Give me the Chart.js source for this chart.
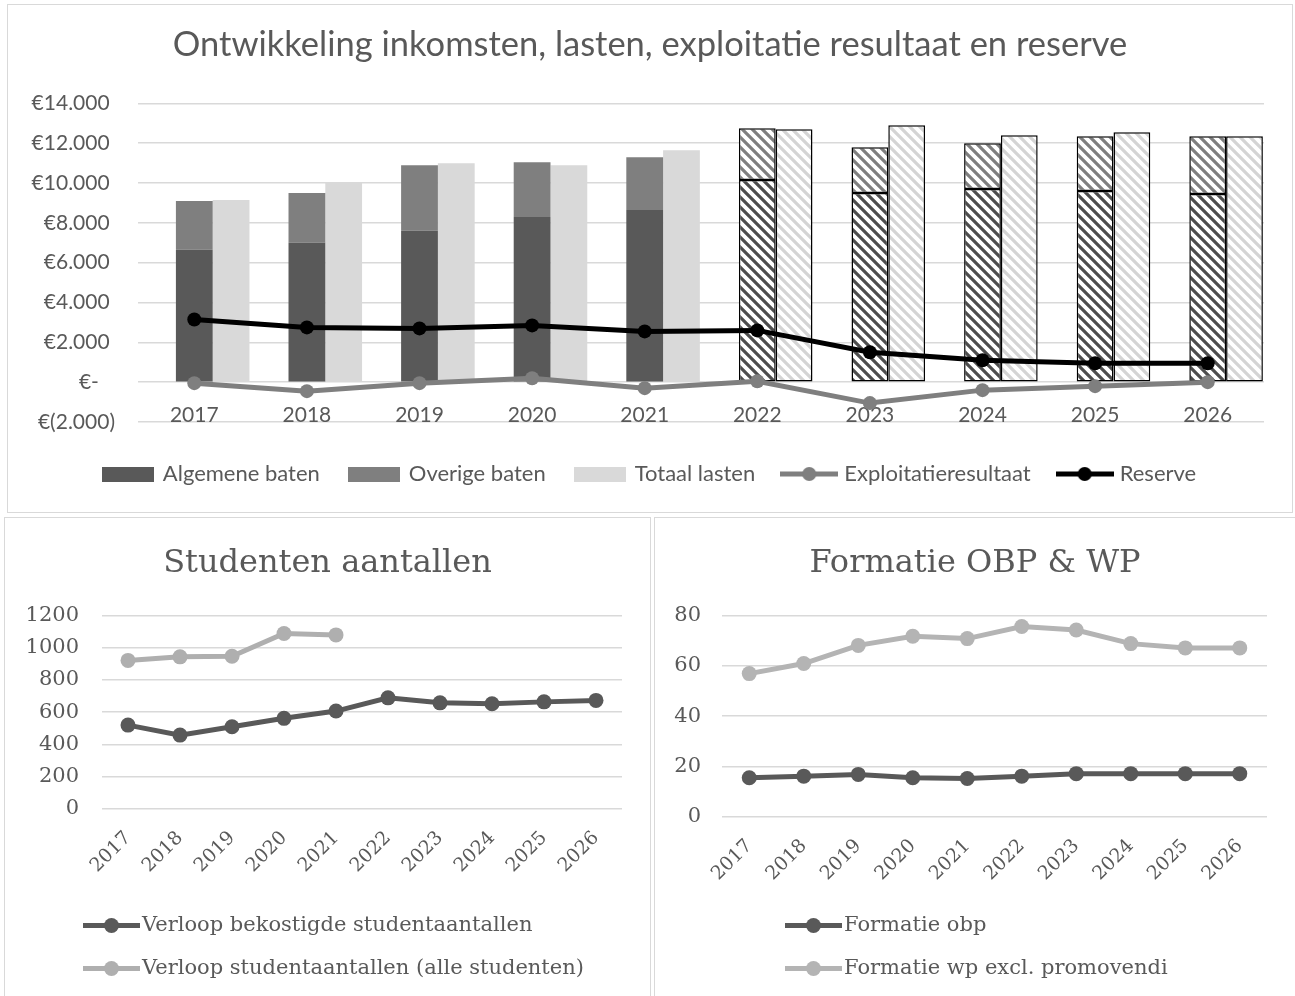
<!DOCTYPE html>
<html>
<head>
<meta charset="utf-8">
<script src="https://cdn.jsdelivr.net/npm/chart.js@4.4.1/dist/chart.umd.min.js"></script>
<style>
  body { margin: 0; background: #fff; width: 1295px; height: 996px; overflow: hidden; position: relative; }
  .box { position: absolute; border: 1px solid #d9d9d9; background: #fff; }
  #topBox { left: 7px; top: 4px; width: 1284px; height: 507px; }
  #leftBox { left: 4px; top: 517px; width: 645px; height: 490px; }
  #rightBox { left: 654px; top: 517px; width: 640px; height: 490px; }
  canvas { position: absolute; left: 0; top: 0; }
</style>
</head>
<body>
<div class="box" id="topBox"><canvas id="financeChart" width="1284" height="507"></canvas></div>
<div class="box" id="leftBox"><canvas id="studentChart" width="645" height="478"></canvas></div>
<div class="box" id="rightBox"><canvas id="formatieChart" width="640" height="478"></canvas></div>
<script>
// categories
const years = ['2017', '2018', '2019', '2020', '2021', '2022', '2023', '2024', '2025', '2026'];
const firstForecastYear = '2022';

// financial series (x €1.000)
const algemeneBaten = [6650, 7000, 7600, 8300, 8650, 10150, 9500, 9700, 9600, 9450];
const overigeBaten = [2450, 2500, 3300, 2750, 2650, 2600, 2300, 2300, 2750, 2900];
const totaalLasten = [9150, 10000, 11000, 10900, 11650, 12700, 12900, 12400, 12550, 12350];
const exploitatieresultaat = [-50, -450, -50, 200, -300, 50, -1050, -400, -200, 0];
const reserve = [3150, 2750, 2700, 2850, 2550, 2600, 1500, 1100, 950, 950];

// student numbers
const bekostigdeStudenten = [520, 458, 510, 562, 607, 689, 658, 652, 664, 673];
const alleStudenten = [921, 943, 947, 1088, 1079, null, null, null, null, null];

// formatie
const formatieObp = [15.6, 16.2, 16.9, 15.6, 15.3, 16.2, 17.2, 17.2, 17.2, 17.2];
const formatieWp = [56.9, 60.9, 68.1, 71.7, 70.8, 75.6, 74.2, 68.8, 67.1, 67.1];

const textGrey = '#595959';
const gridGrey = '#d9d9d9';
const sans = 'Lato';
const serif = '"DejaVu Serif"';

const isForecast = years.map(y => y >= firstForecastYear);

function hatch(color) {
    const c = document.createElement('canvas');
    c.width = c.height = 10;
    const g = c.getContext('2d');
    g.fillStyle = '#fff';
    g.fillRect(0, 0, 10, 10);
    g.strokeStyle = color;
    g.lineWidth = 3.2;
    g.beginPath();
    [-10, 0, 10].forEach(b => {
        g.moveTo(-10, -10 + b);
        g.lineTo(20, 20 + b);
    });
    g.stroke();
    return g.createPattern(c, 'repeat');
}

function boxIcon(color) {
    const c = document.createElement('canvas');
    c.width = 52; c.height = 15;
    const g = c.getContext('2d');
    g.fillStyle = color;
    g.fillRect(0, 0, 52, 15);
    return c;
}

function lineIcon(color, w, r) {
    const c = document.createElement('canvas');
    c.width = w; c.height = Math.ceil(r * 2 + 2);
    const g = c.getContext('2d');
    const mid = c.height / 2;
    g.strokeStyle = color;
    g.lineWidth = 5;
    g.beginPath();
    g.moveTo(0, mid);
    g.lineTo(w, mid);
    g.stroke();
    g.fillStyle = color;
    g.beginPath();
    g.arc(w / 2, mid, r, 0, Math.PI * 2);
    g.fill();
    return c;
}

// legend items drawn with our own icons, empty labels are left out
function iconLabels(icons) {
    return chart => chart.data.datasets
        .map((ds, i) => ({ ds, i }))
        .filter(o => o.ds.label)
        .map(o => ({
            text: o.ds.label,
            pointStyle: icons[o.ds.label],
            fillStyle: '#000',
            strokeStyle: '#000',
            lineWidth: 0,
            hidden: false,
            datasetIndex: o.i,
            fontColor: textGrey
        }));
}

// title and legend span the whole canvas, legend can be moved to a fixed spot
const boxPlace = {
    id: 'boxPlace',
    afterLayout(chart, args, opts) {
        const tb = chart.titleBlock;
        if (tb) { tb.left = 0; tb.right = chart.width; }
        const lg = chart.legend;
        if (!lg) return;
        lg.right = chart.width;
        if (opts.left !== undefined) lg.left = opts.left;
        if (opts.top !== undefined) {
            lg.top = opts.top;
            lg.bottom = chart.height;
        }
    }
};

function euro(v) {
    const s = String(Math.abs(v)).replace(/\B(?=(\d{3})+(?!\d))/g, '.');
    if (v === 0) return '€-   ';
    if (v < 0) return '€(' + s + ')';
    return '€' + s + ' ';
}

function perYear(normal, forecast) {
    return isForecast.map(f => f ? forecast : normal);
}

function drawFinanceChart() {
    const icons = {
        'Algemene baten': boxIcon('#595959'),
        'Overige baten': boxIcon('#7f7f7f'),
        'Totaal lasten': boxIcon('#d9d9d9'),
        'Exploitatieresultaat': lineIcon('#7f7f7f', 58, 7),
        'Reserve': lineIcon('#000000', 58, 7)
    };
    const ctx = document.getElementById('financeChart').getContext('2d');
    new Chart(ctx, {
        data: {
            labels: years,
            datasets: [
                { type: 'bar', label: '', data: [], stack: 'pad', order: 3 },
                {
                    type: 'bar', label: 'Algemene baten', data: algemeneBaten, stack: 'baten', order: 4,
                    backgroundColor: perYear('#595959', hatch('#4d4d4d')),
                    borderColor: perYear('rgba(0,0,0,0)', '#000'),
                    borderWidth: perYear(0, 1.5), borderSkipped: false
                },
                {
                    type: 'bar', label: 'Overige baten', data: overigeBaten, stack: 'baten', order: 4,
                    backgroundColor: perYear('#7f7f7f', hatch('#7f7f7f')),
                    borderColor: perYear('rgba(0,0,0,0)', '#000'),
                    borderWidth: perYear(0, 1.5), borderSkipped: false
                },
                {
                    type: 'bar', label: 'Totaal lasten', data: totaalLasten, stack: 'lasten', order: 4,
                    backgroundColor: perYear('#d9d9d9', hatch('#d4d4d4')),
                    borderColor: perYear('rgba(0,0,0,0)', '#000'),
                    borderWidth: perYear(0, 1.5), borderSkipped: false
                },
                {
                    type: 'line', label: 'Exploitatieresultaat', data: exploitatieresultaat, stack: 'expl', order: 1,
                    borderColor: '#7f7f7f', backgroundColor: '#7f7f7f', borderWidth: 5,
                    pointRadius: 7, pointBorderWidth: 0, pointBackgroundColor: '#7f7f7f'
                },
                {
                    type: 'line', label: 'Reserve', data: reserve, stack: 'res', order: 0,
                    borderColor: '#000', backgroundColor: '#000', borderWidth: 5,
                    pointRadius: 7, pointBorderWidth: 0, pointBackgroundColor: '#000'
                }
            ]
        },
        options: {
            responsive: false,
            animation: false,
            devicePixelRatio: 1,
            datasets: { bar: { categoryPercentage: 0.98, barPercentage: 1 } },
            layout: { padding: { left: 0, right: 28, top: 0, bottom: 28 } },
            scales: {
                x: {
                    position: { y: 0 },
                    stacked: true,
                    grid: { display: false },
                    border: { display: false },
                    ticks: { color: textGrey, font: { family: sans, size: 21 }, padding: 12 },
                    afterFit: s => { s.height = 0; }
                },
                y: {
                    stacked: true,
                    min: -2000,
                    max: 14000,
                    ticks: {
                        stepSize: 2000,
                        color: textGrey,
                        font: { family: sans, size: 21 },
                        padding: 23,
                        callback: v => euro(v)
                    },
                    grid: { color: gridGrey, lineWidth: 1.5, drawTicks: false },
                    border: { display: false },
                    afterFit: s => { s.width = 130; }
                }
            },
            plugins: {
                title: {
                    display: true,
                    text: 'Ontwikkeling inkomsten, lasten, exploitatie resultaat en reserve',
                    color: textGrey,
                    font: { family: sans, size: 34.5, weight: 'normal' },
                    padding: { top: 19, bottom: 38 }
                },
                legend: {
                    position: 'bottom',
                    labels: {
                        usePointStyle: true,
                        pointStyleWidth: 48,
                        padding: 30,
                        color: textGrey,
                        font: { family: sans, size: 22 },
                        generateLabels: iconLabels(icons)
                    }
                },
                boxPlace: { top: 428 },
                tooltip: { enabled: false }
            }
        },
        plugins: [boxPlace]
    });
}

function drawSmallLineChart(id, title, series, yMax, yStep, yWidth, yPad, xHeight, areaPadBottom, legendLeft) {
    const icons = {};
    series.forEach(s => { icons[s.label] = lineIcon(s.color, 57, 7.5); });
    const ctx = document.getElementById(id).getContext('2d');
    new Chart(ctx, {
        type: 'line',
        data: {
            labels: years,
            datasets: series.map(s => ({
                label: s.label,
                data: s.data,
                borderColor: s.color,
                backgroundColor: s.color,
                borderWidth: 5,
                pointRadius: 7.5,
                pointBorderWidth: 0,
                pointBackgroundColor: s.color
            }))
        },
        options: {
            responsive: false,
            animation: false,
            devicePixelRatio: 1,
            layout: { padding: { left: 0, right: 28, top: 0, bottom: areaPadBottom } },
            scales: {
                x: {
                    offset: true,
                    grid: { display: false },
                    border: { display: false },
                    ticks: {
                        color: textGrey,
                        font: { family: serif, size: 19 },
                        minRotation: 45,
                        maxRotation: 45,
                        padding: 10
                    },
                    afterFit: s => { s.height = xHeight; }
                },
                y: {
                    min: 0,
                    max: yMax,
                    ticks: {
                        stepSize: yStep,
                        color: textGrey,
                        font: { family: serif, size: 21 },
                        padding: yPad,
                        callback: v => String(v)
                    },
                    grid: { color: gridGrey, lineWidth: 1.5, drawTicks: false },
                    border: { display: false },
                    afterFit: s => { s.width = yWidth; }
                }
            },
            plugins: {
                title: {
                    display: true,
                    text: title,
                    color: textGrey,
                    font: { family: serif, size: 32, weight: 'normal' },
                    padding: { top: 26, bottom: 33 }
                },
                legend: {
                    position: 'bottom',
                    align: 'start',
                    labels: {
                        usePointStyle: true,
                        pointStyleWidth: 40,
                        padding: 22,
                        color: textGrey,
                        font: { family: serif, size: 21 },
                        generateLabels: iconLabels(icons)
                    }
                },
                boxPlace: { top: 375, left: legendLeft },
                tooltip: { enabled: false }
            }
        },
        plugins: [boxPlace]
    });
}

drawFinanceChart();

drawSmallLineChart('studentChart', 'Studenten aantallen', [
    { label: 'Verloop bekostigde studentaantallen', data: bekostigdeStudenten, color: '#595959' },
    { label: 'Verloop studentaantallen (alle studenten)', data: alleStudenten, color: '#afafaf' }
], 1200, 200, 97, 23, 85, 6, 64.5);

drawSmallLineChart('formatieChart', 'Formatie OBP & WP', [
    { label: 'Formatie obp', data: formatieObp, color: '#595959' },
    { label: 'Formatie wp excl. promovendi', data: formatieWp, color: '#b4b4b4' }
], 80, 20, 67, 21, 83, 0, 116.5);
</script>
</body>
</html>
